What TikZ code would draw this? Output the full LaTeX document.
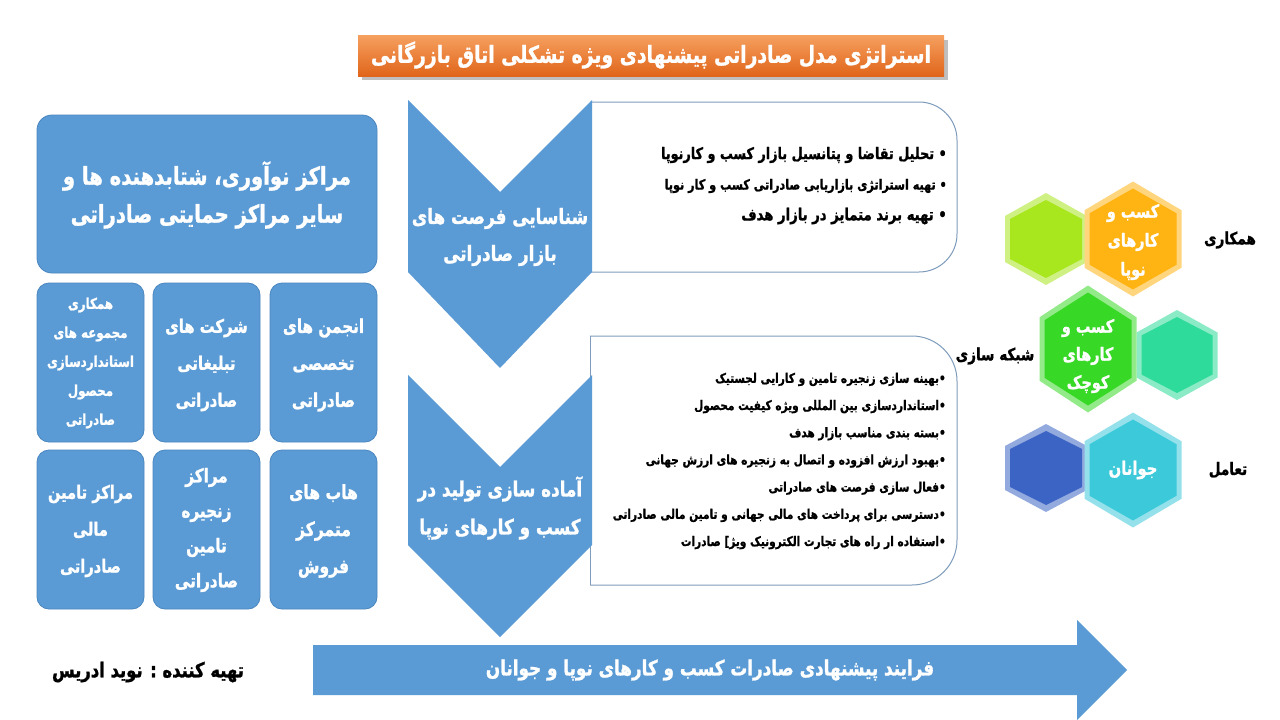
\documentclass[tikz,border=0pt]{standalone}
\usepackage{fontspec}
\newfontfamily\arabicfont[Script=Arabic, FakeStretch=0.8, BoldFeatures={FakeBold=1.2}]{DejaVu Sans}
\TeXXeTstate=1
\definecolor{obl}{HTML}{5B9BD5}
\definecolor{oblb}{HTML}{4A86C0}
\definecolor{frame}{HTML}{7E9CBC}
\definecolor{limec}{HTML}{A8E61E}
\definecolor{orac}{HTML}{FFB414}
\definecolor{grnc}{HTML}{38D926}
\definecolor{tealc}{HTML}{2EDB9A}
\definecolor{dblc}{HTML}{3B64C4}
\definecolor{cyac}{HTML}{3CC9DA}
\definecolor{otop}{HTML}{F6A060}
\definecolor{obot}{HTML}{E0651A}
\newcommand\fa[1]{\beginR #1\endR}
\newcommand\hexa[5]{%
 \fill[#5!55!white] ({#1},{#2-#4/2}) -- ({#1+#3/2},{#2-#4/4}) -- ({#1+#3/2},{#2+#4/4}) -- ({#1},{#2+#4/2}) -- ({#1-#3/2},{#2+#4/4}) -- ({#1-#3/2},{#2-#4/4}) -- cycle;
 \fill[#5] ({#1},{#2-#4/2+7}) -- ({#1+#3/2-5},{#2-#4/4+3}) -- ({#1+#3/2-5},{#2+#4/4-3}) -- ({#1},{#2+#4/2-7}) -- ({#1-#3/2+5},{#2+#4/4-3}) -- ({#1-#3/2+5},{#2-#4/4+3}) -- cycle;}
\tikzset{
 fs/.style n args={2}{font=\arabicfont\bfseries\fontsize{#1}{#2}\selectfont},
 fa/.style={align=center, inner sep=0pt},
 wtxt/.style={fa, text=white},
 btxt/.style={fa, text=black},
 bluebox/.style={fill=obl, draw=oblb, line width=0.8pt, rounded corners=12pt},
 chev/.style={fill=obl},
 panel/.style={draw=frame, line width=1pt, fill=white},
}
\begin{document}
\begin{tikzpicture}[x=1pt,y=-1pt]
\useasboundingbox (0,0) rectangle (1280,720);
\fill[white] (0,0) rectangle (1280,720);

% title
\fill[black!25] (362,40) rectangle (948,80);
\shade[top color=otop, bottom color=obot] (358,35) rectangle (944,76);
\node[wtxt, fs={23.5}{26}] (title) at (651,55) {\fa{استراتژی مدل صادراتی پیشنهادی ویژه تشکلی اتاق بازرگانی}};

% left blue boxes
\draw[bluebox, rounded corners=15pt] (37,115) rectangle (377,273);
\node[wtxt, fs={24.5}{38}] (bigt) at (207,195) {\fa{مراکز نوآوری، شتابدهنده ها و}\\\fa{سایر مراکز حمایتی صادراتی}};

\draw[bluebox] (270,283) rectangle (377,442);
\draw[bluebox] (153,283) rectangle (260,442);
\draw[bluebox] (37,283) rectangle (144,442);
\draw[bluebox] (270,450) rectangle (377,609);
\draw[bluebox] (153,450) rectangle (260,609);
\draw[bluebox] (37,450) rectangle (144,609);

\node[wtxt, fs={19}{37}] (s1) at (323.5,365) {\fa{انجمن های}\\\fa{تخصصی}\\\fa{صادراتی}};
\node[wtxt, fs={18.5}{37}] (s2) at (206.5,365) {\fa{شرکت های}\\\fa{تبلیغاتی}\\\fa{صادراتی}};
\node[wtxt, fs={14.8}{29}] (s3) at (90.5,363) {\fa{همکاری}\\\fa{مجموعه های}\\\fa{استانداردسازی}\\\fa{محصول}\\\fa{صادراتی}};
\node[wtxt, fs={19.5}{37}] (s4) at (323.5,531) {\fa{هاب های}\\\fa{متمرکز}\\\fa{فروش}};
\node[wtxt, fs={19}{35}] (s5) at (206.5,530) {\fa{مراکز}\\\fa{زنجیره}\\\fa{تامین}\\\fa{صادراتی}};
\node[wtxt, fs={18.3}{37}] (s6) at (90.5,531) {\fa{مراکز تامین}\\\fa{مالی}\\\fa{صادراتی}};

% panels
\begin{scope}
 \clip (590,90) rectangle (970,285);
 \draw[panel, rounded corners=38pt] (540,102) rectangle (957,272);
\end{scope}
\draw[frame, line width=1pt] (590,102) -- (590,272);
\begin{scope}
 \clip (590,325) rectangle (970,595);
 \draw[panel, rounded corners=45pt] (540,336) rectangle (957,585);
\end{scope}
\draw[frame, line width=1pt] (590,336) -- (590,585);

% chevrons
\fill[chev] (408,100) -- (500,192) -- (592,100) -- (592,272) -- (500,368) -- (408,272) -- cycle;
\fill[chev] (408,375) -- (500,467) -- (592,375) -- (592,545) -- (500,637) -- (408,545) -- cycle;
\node[wtxt, fs={21}{37}] (c1) at (500,237) {\fa{شناسایی فرصت های}\\\fa{بازار صادراتی}};
\node[wtxt, fs={21}{38}] (c2) at (500,508) {\fa{آماده سازی تولید در}\\\fa{کسب و کارهای نوپا}};

% panel 1 text
\node[btxt, fs={16}{18}, anchor=east] (p1a) at (947,155) {\fa{• تحلیل تقاضا و پتانسیل بازار کسب و کارنوپا}};
\node[btxt, fs={14}{16}, anchor=east] (p1b) at (947,186) {\fa{• تهیه استراتژی بازاریابی صادراتی کسب و کار نوپا}};
\node[btxt, fs={16.5}{18}, anchor=east] (p1c) at (947,216) {\fa{• تهیه برند متمایز در بازار هدف}};

% panel 2 text
\node[btxt, fs={13.2}{27.2}, align=right, anchor=east] (p2) at (946,461) {%
\fa{•بهینه سازی زنجیره تامین و کارایی لجستیک}\\
\fa{•استانداردسازی بین المللی ویژه کیفیت محصول}\\
\fa{•بسته بندی مناسب بازار هدف}\\
\fa{•بهبود ارزش افزوده و اتصال به زنجیره های ارزش جهانی}\\
\fa{•فعال سازی فرصت های صادراتی}\\
\fa{•دسترسی برای پرداخت های مالی جهانی و تامین مالی صادراتی}\\
\fa{•استفاده ار راه های تجارت الکترونیک ویژ] صادرات}};

% hexagons
\hexa{1046}{239}{82}{92}{limec}
\hexa{1133}{239}{97}{115}{orac}
\hexa{1177}{355}{81}{90}{tealc}
\hexa{1088}{349}{97}{127}{grnc}
\hexa{1046}{468}{82}{88}{dblc}
\hexa{1133}{470}{97}{115}{cyac}
\node[wtxt, fs={18}{29}] (h1) at (1133,242) {\fa{کسب و}\\\fa{کارهای}\\\fa{نوپا}};
\node[wtxt, fs={18}{28}] (h2) at (1088,356) {\fa{کسب و}\\\fa{کارهای}\\\fa{کوچک}};
\node[wtxt, fs={18.5}{20}] (h3) at (1133,470) {\fa{جوانان}};
\node[btxt, fs={17}{18}] (l1) at (1230,240) {\fa{همکاری}};
\node[btxt, fs={17}{18}] (l2) at (995,356) {\fa{شبکه سازی}};
\node[btxt, fs={17}{18}] (l3) at (1228,470) {\fa{تعامل}};

% bottom arrow
\fill[obl] (313,645) -- (1077,645) -- (1077,620) -- (1127,670) -- (1077,720) -- (1077,695) -- (313,695) -- cycle;
\node[wtxt, fs={21}{22}] (arr) at (710,670) {\fa{فرایند پیشنهادی صادرات کسب و کارهای نوپا و جوانان}};
\node[btxt, fs={20.5}{22}] (cred) at (148,672) {\fa{تهیه کننده : نوید ادریس}};
\end{tikzpicture}
\end{document}
